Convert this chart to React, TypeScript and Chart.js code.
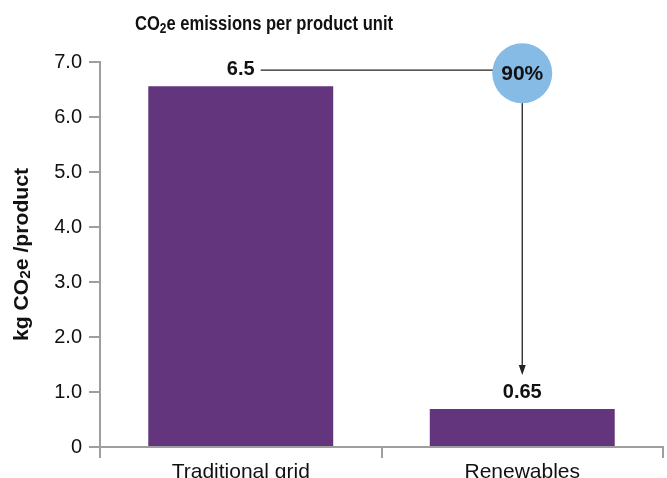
import { useEffect, useRef } from 'react';
import { Chart, registerables } from 'chart.js';

Chart.register(...registerables);

const categories = ['Traditional grid', 'Renewables'];
const emissions = [6.56, 0.69];
const valueLabels = ['6.5', '0.65'];
const reductionLabel = '90%';
const yTickLabels = ['0', '1.0', '2.0', '3.0', '4.0', '5.0', '6.0', '7.0'];
const titleRuns = [{ t: 'CO' }, { t: '2', sub: true }, { t: 'e emissions per product unit' }];
const yTitleRuns = [{ t: 'kg CO' }, { t: '2', sub: true }, { t: 'e /product' }];

const FAM = '"Liberation Sans", Arial, Helvetica, sans-serif';
const AXIS_GRAY = '#9e9e9e';
const BAR_COLOR = '#62357c';
const CIRCLE_COLOR = '#86bbe6';
const TEXT = '#111111';

type Run = { t: string; sub?: boolean };

function drawRuns(ctx: CanvasRenderingContext2D, runs: Run[], size: number, targetWidth: number) {
  const main = `bold ${size}px ${FAM}`;
  const sub = `bold ${Math.round(size * 0.72)}px ${FAM}`;
  const widths = runs.map((r) => {
    ctx.font = r.sub ? sub : main;
    return ctx.measureText(r.t).width;
  });
  const total = widths.reduce((a, b) => a + b, 0);
  const scale = targetWidth / total;
  ctx.scale(scale, 1);
  let x = -total / 2;
  ctx.textAlign = 'left';
  ctx.textBaseline = 'alphabetic';
  ctx.fillStyle = TEXT;
  runs.forEach((r, i) => {
    ctx.font = r.sub ? sub : main;
    ctx.fillText(r.t, x, r.sub ? size * 0.14 : 0);
    x += widths[i];
  });
}

const annotationPlugin = {
  id: 'annotations',
  afterDatasetsDraw(chart: any) {
    const ctx: CanvasRenderingContext2D = chart.ctx;
    const meta = chart.getDatasetMeta(0);
    const b0 = meta.data[0];
    const b1 = meta.data[1];
    ctx.save();
    ctx.fillStyle = TEXT;
    ctx.font = `bold 20px ${FAM}`;
    ctx.textAlign = 'center';
    ctx.textBaseline = 'middle';
    ctx.fillText(valueLabels[0], b0.x, b0.y - 17);
    ctx.fillText(valueLabels[1], b1.x, b1.y - 17);
    const w0 = ctx.measureText(valueLabels[0]).width;

    const r = 30;
    const cy = b0.y - 13;
    const lineY = b0.y - 16;
    ctx.strokeStyle = '#222';
    ctx.lineWidth = 1.3;
    ctx.beginPath();
    ctx.moveTo(b0.x + w0 / 2 + 6, lineY);
    ctx.lineTo(b1.x - r + 2, lineY);
    ctx.stroke();

    const tipY = b1.y - 34;
    ctx.beginPath();
    ctx.moveTo(b1.x, cy + r - 2);
    ctx.lineTo(b1.x, tipY - 8);
    ctx.stroke();
    ctx.fillStyle = '#222';
    ctx.beginPath();
    ctx.moveTo(b1.x - 3.5, tipY - 10);
    ctx.lineTo(b1.x + 3.5, tipY - 10);
    ctx.lineTo(b1.x, tipY);
    ctx.closePath();
    ctx.fill();

    ctx.fillStyle = CIRCLE_COLOR;
    ctx.beginPath();
    ctx.arc(b1.x, cy, r, 0, Math.PI * 2);
    ctx.fill();
    ctx.fillStyle = TEXT;
    ctx.font = `bold 21px ${FAM}`;
    ctx.fillText(reductionLabel, b1.x, cy + 1);
    ctx.restore();
  },
  afterDraw(chart: any) {
    const ctx: CanvasRenderingContext2D = chart.ctx;
    const area = chart.chartArea;
    ctx.save();
    ctx.translate(264, 30);
    drawRuns(ctx, titleRuns, 19.5, 258);
    ctx.restore();
    ctx.save();
    ctx.translate(27.5, (area.top + area.bottom) / 2);
    ctx.rotate(-Math.PI / 2);
    drawRuns(ctx, yTitleRuns, 20.5, 173);
    ctx.restore();
  },
};

export default function App() {
  const ref = useRef<HTMLCanvasElement | null>(null);
  useEffect(() => {
    document.body.style.margin = '0';
    document.body.style.overflow = 'hidden';
    const canvas = ref.current;
    if (!canvas) return;
    const chart = new Chart(canvas, {
      type: 'bar',
      data: {
        labels: categories,
        datasets: [
          {
            data: emissions,
            backgroundColor: BAR_COLOR,
            borderWidth: 0,
            barPercentage: 0.657,
            categoryPercentage: 1,
          },
        ],
      },
      options: {
        responsive: false,
        animation: false,
        devicePixelRatio: 1,
        layout: { padding: { left: 0, right: 4, top: 62, bottom: 0 } },
        plugins: {
          legend: { display: false },
          tooltip: { enabled: false },
          title: { display: false },
        },
        scales: {
          x: {
            grid: {
              drawOnChartArea: false,
              drawTicks: true,
              tickLength: 11,
              color: AXIS_GRAY,
              lineWidth: 2,
              offset: true,
            },
            border: { display: true, color: AXIS_GRAY, width: 2 },
            ticks: {
              color: TEXT,
              padding: 2,
              font: { family: FAM, size: 21 },
              maxRotation: 0,
            },
            afterFit: (axis: any) => {
              axis.height = 31;
            },
          },
          y: {
            min: 0,
            max: 7,
            grid: {
              drawOnChartArea: false,
              drawTicks: true,
              tickLength: 11,
              color: AXIS_GRAY,
              lineWidth: 2,
            },
            border: { display: true, color: AXIS_GRAY, width: 2 },
            ticks: {
              stepSize: 1,
              color: TEXT,
              padding: 7,
              font: { family: FAM, size: 20 },
              callback: (_v: any, i: number) => yTickLabels[i],
            },
            afterFit: (axis: any) => {
              axis.width = 100;
            },
          },
        },
      },
      plugins: [annotationPlugin],
    });
    return () => chart.destroy();
  }, []);
  return (
    <div style={{ width: 667, height: 478 }}>
      <canvas ref={ref} width={667} height={478} style={{ display: 'block' }} />
    </div>
  );
}
